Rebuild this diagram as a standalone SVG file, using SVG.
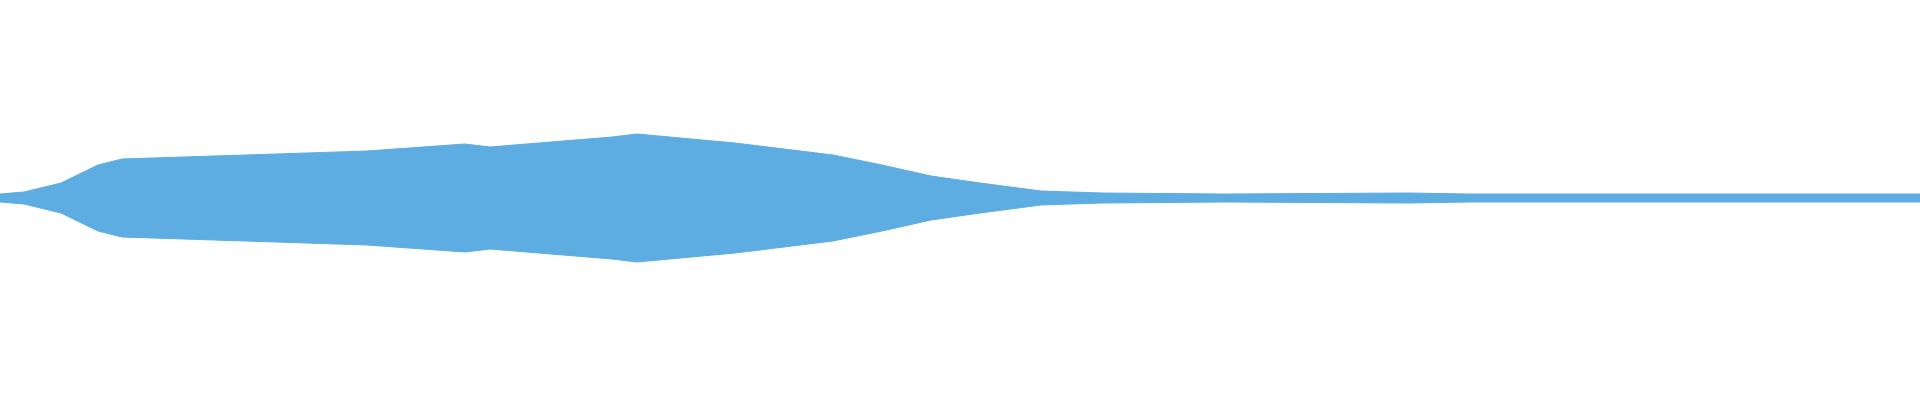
<svg xmlns="http://www.w3.org/2000/svg" width="1920" height="400" viewBox="0 0 1920 400">
<style>.w{fill:#5DADE2;stroke:#5DADE2;stroke-width:1}</style>
<rect width="1920" height="400" fill="#fff"/>
<g id="waveform">
<path class="w" d="M0,194 L24,192 L61,183 L98,165 L122,159 L245,155 L367,151 L465,144 L490,147 L612,137 L637,134 L735,143 L833,155 L882,165 L931,176 L980,183 L1041,191 L1102,193 L1225,194 L1408,193 L1470,194 L1920,194 L1920,202 L1470,202 L1408,203 L1225,202 L1102,203 L1041,205 L980,213 L931,220 L882,231 L833,241 L735,253 L637,262 L612,259 L490,249 L465,252 L367,245 L245,241 L122,237 L98,231 L61,213 L24,204 L0,202 Z"/>
</g>
</svg>
